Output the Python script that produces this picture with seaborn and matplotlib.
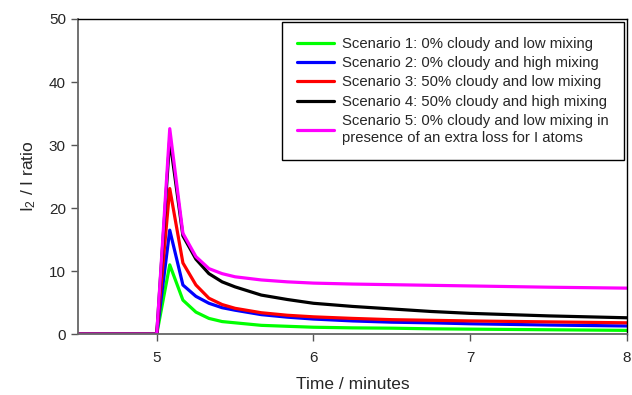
import matplotlib
matplotlib.use('Agg')
import matplotlib.pyplot as plt
import pandas as pd
import seaborn as sns

# Time axis (minutes) and the five modelled I2/I ratio series
time_min = [4.5, 5.0, 5.083, 5.167, 5.25, 5.333, 5.417, 5.5, 5.667, 5.833, 6.0, 6.25, 6.5, 6.75, 7.0, 7.5, 8.0]
scenario_1 = [0, 0, 11.0, 5.4, 3.5, 2.5, 2.0, 1.8, 1.4, 1.25, 1.1, 1.0, 0.95, 0.85, 0.8, 0.7, 0.6]
scenario_2 = [0, 0, 16.5, 7.8, 6.0, 4.9, 4.2, 3.8, 3.1, 2.7, 2.4, 2.1, 1.9, 1.8, 1.65, 1.45, 1.3]
scenario_3 = [0, 0, 23.1, 11.3, 7.8, 5.7, 4.7, 4.1, 3.4, 3.0, 2.75, 2.5, 2.3, 2.2, 2.1, 1.95, 1.8]
scenario_4 = [0, 0, 31.0, 15.6, 11.9, 9.6, 8.3, 7.5, 6.2, 5.5, 4.9, 4.4, 4.0, 3.6, 3.3, 2.9, 2.6]
scenario_5 = [0, 0, 32.6, 16.0, 12.3, 10.4, 9.6, 9.1, 8.6, 8.3, 8.1, 7.95, 7.85, 7.75, 7.65, 7.45, 7.3]

labels = ['Scenario 1: 0% cloudy and low mixing',
          'Scenario 2: 0% cloudy and high mixing',
          'Scenario 3: 50% cloudy and low mixing',
          'Scenario 4: 50% cloudy and high mixing',
          'Scenario 5: 0% cloudy and low mixing in\npresence of an extra loss for I atoms']
colors = ['#00ff00', '#0000ff', '#ff0000', '#000000', '#ff00ff']

series = [scenario_1, scenario_2, scenario_3, scenario_4, scenario_5]
df = pd.concat([pd.DataFrame({'Time': time_min, 'Ratio': s, 'Scenario': lab})
                for s, lab in zip(series, labels)], ignore_index=True)

sns.set_style('ticks')
plt.rcParams['font.family'] = ['Liberation Sans', 'DejaVu Sans']
plt.rcParams['mathtext.default'] = 'regular'

fig, ax = plt.subplots(figsize=(6.32, 3.95), dpi=100)
fig.subplots_adjust(left=0.124, right=0.992, top=0.952, bottom=0.154)

sns.lineplot(data=df, x='Time', y='Ratio', hue='Scenario', palette=colors,
             hue_order=labels, linewidth=2.3, ax=ax)

ax.set_xlim(4.5, 8)
ax.set_ylim(0, 50)
ax.set_xticks([5, 6, 7, 8])
ax.set_yticks([0, 10, 20, 30, 40, 50])
ax.tick_params(direction='out', length=5, width=1, color='#555555', labelsize=11, pad=4)
ax.tick_params(axis='x', pad=7)
ax.set_xlabel('Time / minutes', fontsize=12.5, labelpad=9)
ax.set_ylabel('I$_2$ / I ratio', fontsize=12.5, labelpad=8)

for side in ['left', 'bottom']:
    ax.spines[side].set_color('#666666')
    ax.spines[side].set_linewidth(1.3)
for side in ['top', 'right']:
    ax.spines[side].set_visible(True)
    ax.spines[side].set_color('black')
    ax.spines[side].set_linewidth(1.0)

leg = ax.legend(loc='upper right', bbox_to_anchor=(1.0, 1.0), borderaxespad=0.2,
                fontsize=10.7, frameon=True, fancybox=False, framealpha=1,
                edgecolor='black', handlelength=2.5, labelspacing=0.36,
                borderpad=1.0, handletextpad=0.55)
leg.get_frame().set_linewidth(1.0)
for t in leg.get_texts():
    t.set_linespacing(1.25)

plt.savefig('out.png', dpi=100)
